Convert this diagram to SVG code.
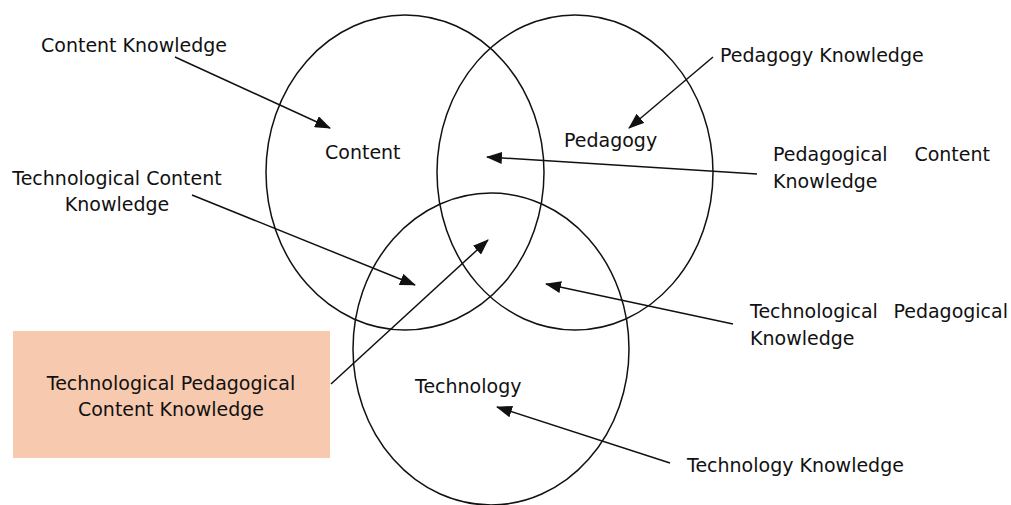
<svg xmlns="http://www.w3.org/2000/svg" width="1011" height="505" viewBox="0 0 1011 505">
<defs>
<style>
text{font-family:"DejaVu Sans","Liberation Sans",sans-serif;font-size:19px;fill:#111}
.c{fill:none;stroke:#111;stroke-width:1.5}
.a{stroke:#111;stroke-width:1.5;fill:none;marker-end:url(#ah)}
</style>
<marker id="ah" markerUnits="userSpaceOnUse" markerWidth="16" markerHeight="12" refX="15" refY="6" orient="auto">
<path d="M0,0 L16,6 L0,12 z" fill="#111"/>
</marker>
</defs>
<rect width="1011" height="505" fill="#fff"/>
<g id="content-circle"><ellipse class="c" cx="405" cy="172.5" rx="139" ry="157.5"/><text x="325" y="159">Content</text></g>
<g id="pedagogy-circle"><ellipse class="c" cx="575" cy="172.5" rx="138" ry="157.5"/><text x="564" y="147">Pedagogy</text></g>
<g id="technology-circle"><ellipse class="c" cx="491" cy="349" rx="138" ry="156"/><text x="415" y="393">Technology</text></g>
<g id="tpck"><rect x="13" y="331" width="317" height="127" fill="#F7C9AE"/><text x="171" y="390" text-anchor="middle">Technological Pedagogical</text><text x="171" y="416" text-anchor="middle">Content Knowledge</text></g>
<g id="ck"><text x="41" y="52">Content Knowledge</text></g>
<g id="pk"><text x="720" y="62">Pedagogy Knowledge</text></g>
<g id="pck"><text x="773" y="161">Pedagogical</text><text x="990" y="161" text-anchor="end">Content</text><text x="773" y="188">Knowledge</text></g>
<g id="tck"><text x="117" y="185" text-anchor="middle">Technological Content</text><text x="117" y="211" text-anchor="middle">Knowledge</text></g>
<g id="tpk"><text x="750" y="318">Technological</text><text x="1008" y="318" text-anchor="end">Pedagogical</text><text x="750" y="345">Knowledge</text></g>
<g id="tk"><text x="687" y="472">Technology Knowledge</text></g>
<g id="connectors">
<line class="a" x1="175" y1="57" x2="330" y2="128"/>
<line class="a" x1="713" y1="57" x2="629" y2="128"/>
<line class="a" x1="757" y1="174" x2="487" y2="157"/>
<line class="a" x1="192" y1="195" x2="415" y2="285"/>
<line class="a" x1="331" y1="384" x2="488" y2="240"/>
<line class="a" x1="733" y1="324" x2="546" y2="284"/>
<line class="a" x1="670" y1="463" x2="497" y2="407"/>
</g>
</svg>
